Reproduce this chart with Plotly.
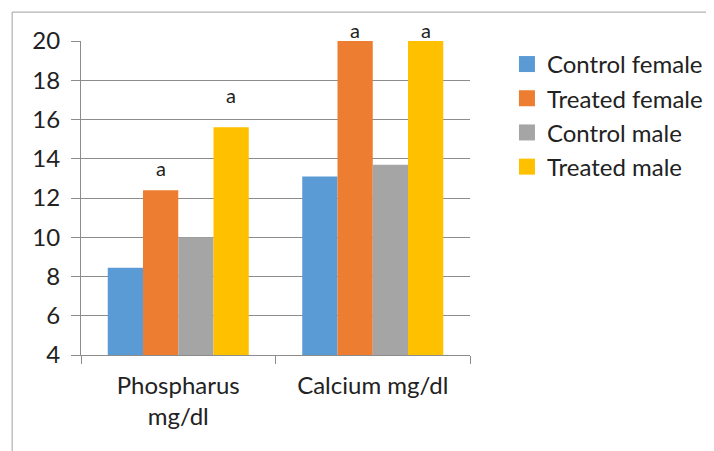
import plotly.graph_objects as go

categories = ["Phospharus<br>mg/dl", "Calcium mg/dl"]
series_names = ["Control female", "Treated female", "Control male", "Treated male"]
control_female = [8.45, 13.1]
treated_female = [12.4, 20.0]
control_male = [10.0, 13.7]
treated_male = [15.6, 20.0]
colors = ["#5B9BD5", "#ED7D31", "#A5A5A5", "#FFC000"]

# significance letters: (category index, series index, text, y level of letter)
sig_letters = [(0, 1, "a", 13.55), (0, 3, "a", 17.25), (1, 1, "a", 20.55), (1, 3, "a", 20.55)]

FONT = "Lato"
FS = 24
GRID = "#8C8C8C"
BARGAP = 0.275
Y_MIN, Y_MAX = 4, 20

values = [control_female, treated_female, control_male, treated_male]
fig = go.Figure()
for name, vals, col in zip(series_names, values, colors):
    fig.add_trace(go.Bar(x=categories, y=vals, name=name, marker=dict(color=col, line=dict(width=0)),
                         cliponaxis=False, showlegend=False, legendgroup=name))
# legend entries with larger square swatches
for name, col in zip(series_names, colors):
    fig.add_trace(go.Scatter(x=[None], y=[None], mode="markers", name=name, legendgroup=name,
                             marker=dict(symbol="square", size=16, color=col, line=dict(width=0)),
                             showlegend=True))

group_w = 1 - BARGAP
bar_w = group_w / len(series_names)
annotations = []
for ci, si, txt, yv in sig_letters:
    xpos = ci - group_w / 2 + (si + 0.5) * bar_w
    annotations.append(dict(x=xpos, y=(yv - Y_MIN) / (Y_MAX - Y_MIN), xref="x", yref="paper",
                            text=txt, showarrow=False,
                            font=dict(family=FONT, size=20, color="#222"), yanchor="middle"))

fig.update_layout(
    width=714, height=451,
    margin=dict(l=73, r=252, t=33, b=104, autoexpand=False),
    paper_bgcolor="white", plot_bgcolor="white",
    barmode="group", bargap=BARGAP, bargroupgap=0,
    font=dict(family=FONT, size=FS, color="#222"),
    showlegend=True,
    legend=dict(x=1.095, y=0.997, xanchor="left", yanchor="top", font=dict(size=FS, color="#222"),
                itemwidth=30, tracegroupgap=0, bgcolor="rgba(0,0,0,0)"),
    annotations=annotations,
    xaxis=dict(type="category", showline=True, linecolor=GRID, linewidth=1, ticks="outside",
               tickson="boundaries", ticklen=8, tickcolor=GRID, showgrid=False,
               tickfont=dict(size=FS), ticklabelstandoff=9),
    yaxis=dict(range=[Y_MIN, Y_MAX], dtick=2, tick0=4, showline=True, linecolor=GRID, linewidth=1,
               ticks="outside", ticklen=9, tickcolor=GRID, showgrid=True, gridcolor=GRID,
               gridwidth=1, tickfont=dict(size=FS), zeroline=False, ticklabelstandoff=6),
    shapes=[dict(type="rect", xref="paper", yref="paper", x0=-0.177, x1=1.7, y0=-0.4, y1=1.092,
                 line=dict(color="#A0A0A0", width=1), fillcolor="rgba(0,0,0,0)", layer="below")],
)

fig.write_html("out.html")
